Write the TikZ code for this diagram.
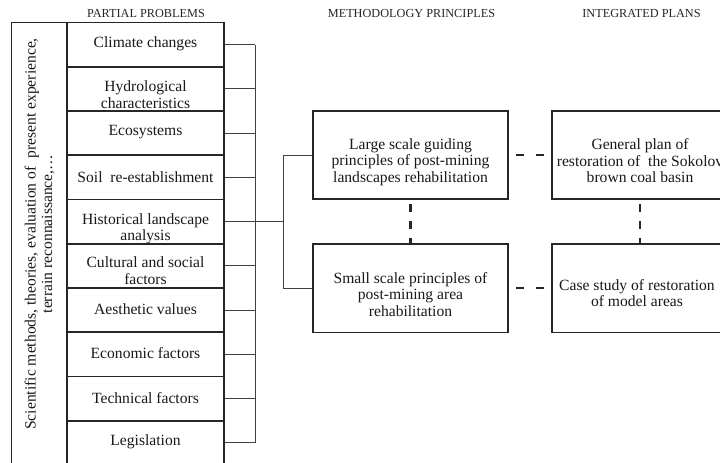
\documentclass[tikz,border=0pt]{standalone}
\usepackage{fontspec}
\setmainfont{Liberation Serif}
\usetikzlibrary{calc}
\begin{document}
\begin{tikzpicture}[x=0.75pt,y=-0.75pt,
  boxline/.style={draw=black!85, line width=1.3pt},
  rowbox/.style={boxline, minimum width=117.75pt, minimum height=33.19pt, inner sep=0pt},
  bigbox/.style={boxline, minimum width=146.25pt, minimum height=66.4pt, inner sep=0pt},
  planbox/.style={boxline, minimum width=132pt, minimum height=66.4pt, inner sep=0pt},
  txt/.style={align=center, inner sep=0pt, font=\fontsize{11.7}{12.4}\selectfont, text=black!90},
  head/.style={inner sep=0pt, font=\fontsize{9.2}{10}\selectfont, text=black!85},
  conn/.style={draw=black!75, line width=0.7pt},
  dashh/.style={draw=black!85, line width=1.6pt, dash pattern=on 6pt off 9pt, dash phase=9.75pt},
  dashv/.style={draw=black!85, line width=1.6pt, dash pattern=on 6pt off 6.75pt, dash phase=9.75pt}
]
\useasboundingbox[fill=white] (0,0) rectangle (720,463);

% headers
\node[head] (h1) at (146,14) {PARTIAL PROBLEMS};
\node[head] (h2) at (411.5,14) {METHODOLOGY PRINCIPLES};
\node[head] (h3) at (641.5,14) {INTEGRATED PLANS};

% outer left frame
\node[boxline, minimum width=41.6pt, minimum height=331.9pt, inner sep=0pt] (sci) at (39.25,243.75) {};
\node[txt, rotate=90] (scitxt) at (39.5,234) {Scientific methods, theories, evaluation of\ \ present experience,\\terrain reconnaissance,\ldots};

% partial problem boxes
\node[rowbox] (p1) at (145.5,44.625) {};
\node[rowbox] (p2) at (145.5,88.875) {};
\node[rowbox] (p3) at (145.5,133.125) {};
\node[rowbox] (p4) at (145.5,177.375) {};
\node[rowbox] (p5) at (145.5,221.625) {};
\node[rowbox] (p6) at (145.5,265.875) {};
\node[rowbox] (p7) at (145.5,310.125) {};
\node[rowbox] (p8) at (145.5,354.375) {};
\node[rowbox] (p9) at (145.5,398.625) {};
\node[rowbox] (p10) at (145.5,442.875) {};

\node[txt] (t1) at ($(p1.center)+(0,-1)$) {Climate changes};
\node[txt] (t2) at ($(p2.center)+(0,6)$) {Hydrological\\characteristics};
\node[txt] (t3) at ($(p3.center)+(0,-1)$) {Ecosystems};
\node[txt] (t4) at ($(p4.center)+(0,0)$) {Soil\ \ re-establishment};
\node[txt] (t5) at ($(p5.center)+(0,7)$) {Historical landscape\\analysis};
\node[txt] (t6) at ($(p6.center)+(0,5)$) {Cultural and social\\factors};
\node[txt] (t7) at ($(p7.center)+(0,-1)$) {Aesthetic values};
\node[txt] (t8) at ($(p8.center)+(0,-1)$) {Economic factors};
\node[txt] (t9) at ($(p9.center)+(0,-1)$) {Technical factors};
\node[txt] (t10) at ($(p10.center)+(0,-1)$) {Legislation};

% methodology boxes
\node[bigbox] (large) at (410.5,155) {};
\node[bigbox] (small) at (410.5,288.25) {};
\node[txt] (tl) at ($(large.center)+(0,7)$) {Large scale guiding\\principles of post-mining\\landscapes rehabilitation};
\node[txt] (ts) at ($(small.center)+(0,6)$) {Small scale principles of\\post-mining area\\rehabilitation};

% integrated plan boxes
\node[planbox] (general) at (640,155) {};
\node[planbox] (case) at (640,288.25) {};
\node[txt] (tg) at ($(general.center)+(0,6)$) {General plan of\\restoration of\ \ the Sokolov\\brown coal basin};
\node[txt] (tc) at ($(case.center)+(-3,5)$) {Case study of restoration\\of model areas};

% connectors
\coordinate (busx) at (255,0);
\coordinate (jx) at (283,0);
\foreach \i in {1,...,10}{
  \draw[conn] (p\i.east) -- (p\i.east -| busx);
}
\draw[conn] (p1.east -| busx) -- (p10.east -| busx);
\draw[conn] (p5.east -| busx) -- (p5.east -| jx);
\draw[conn] (large.west) -- (large.west -| jx) -- (small.west -| jx) -- (small.west);

% dashed links
\draw[dashh] (large.east) -- (general.west);
\draw[dashh] (small.east) -- (case.west);
\draw[dashv] (large.south) -- (small.north);
\draw[dashv] (general.south) -- (case.north);
\end{tikzpicture}
\end{document}
